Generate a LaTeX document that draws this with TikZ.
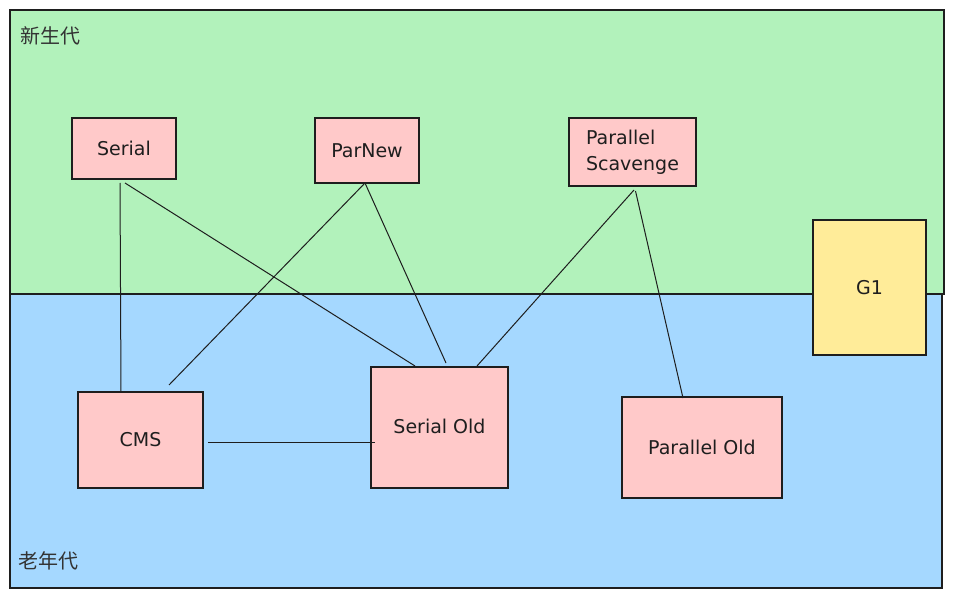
\documentclass[tikz,border=0pt]{standalone}
\usepackage{fontspec}
\setmainfont{DejaVu Sans}
\newfontfamily\cjk{Noto Sans CJK SC}
\usetikzlibrary{calc}
\definecolor{inkc}{HTML}{1E1E1E}
\definecolor{greenfill}{HTML}{B2F2BB}
\definecolor{bluefill}{HTML}{A5D8FF}
\definecolor{pinkfill}{HTML}{FFC9C9}
\definecolor{yellowfill}{HTML}{FFEC99}
\definecolor{labelc}{HTML}{333333}
\tikzset{
  region/.style={draw=inkc, line width=1.2pt, inner sep=0pt, outer sep=0pt},
  gcbox/.style={draw=inkc, fill=pinkfill, line width=1.1pt, inner sep=0pt, outer sep=0pt,
    font=\fontsize{19}{26}\selectfont, text=inkc},
  g1box/.style={gcbox, fill=yellowfill},
  link/.style={draw=inkc, line width=1pt},
  zone/.style={font=\cjk\fontsize{20}{24}\selectfont, text=labelc, anchor=west, inner sep=0pt}
}
\begin{document}
\begin{tikzpicture}[x=1pt,y=-1pt]
\useasboundingbox[fill=white] (0,0) rectangle (954,599);
% regions
\node[region, fill=greenfill, minimum width=934pt, minimum height=284pt] (young) at (477,152) {};
\node[region, fill=bluefill, minimum width=932pt, minimum height=294pt] (old) at (476,441) {};
\node[zone] (younglabel) at (20,36) {新生代};
\node[zone] (oldlabel) at (18,561) {老年代};
% collectors
\node[gcbox, minimum width=104pt, minimum height=61pt] (serial) at (124,148.5) {Serial};
\node[gcbox, minimum width=104pt, minimum height=65pt] (parnew) at (367,150.5) {ParNew};
\node[gcbox, minimum width=127pt, minimum height=68pt, align=left] (ps) at (632.5,152) {Parallel\\Scavenge};
\node[g1box, minimum width=113pt, minimum height=135pt] (g1) at (869.5,287.5) {G1};
\node[gcbox, minimum width=125pt, minimum height=96pt] (cms) at (140.5,440) {CMS};
\node[gcbox, minimum width=137pt, minimum height=121pt] (sold) at (439.5,427.5) {\raisebox{1.5pt}{Serial Old}};
\node[gcbox, minimum width=160pt, minimum height=101pt] (pold) at (702,447.5) {Parallel Old};
% connectors
\draw[link] ($(serial.south)+(-4,4)$) -- ($(cms.north)+(-19.5,0)$);
\draw[link] ($(serial.south)+(1,4)$) -- ($(sold.north)+(-24.5,-1)$);
\draw[link] ($(parnew.south)+(-2,0)$) -- ($(cms.north)+(28.5,-7)$);
\draw[link] ($(parnew.south)+(-2,0)$) -- ($(sold.north)+(6.5,-4)$);
\draw[link] ($(ps.south)+(1.5,4)$) -- ($(sold.north)+(37.5,-1)$);
\draw[link] ($(ps.south)+(3,5)$) -- ($(pold.north)+(-19,1)$);
\draw[link] ($(cms.east)+(5,2)$) -- ($(sold.west)+(4,14.5)$);
\end{tikzpicture}
\end{document}
